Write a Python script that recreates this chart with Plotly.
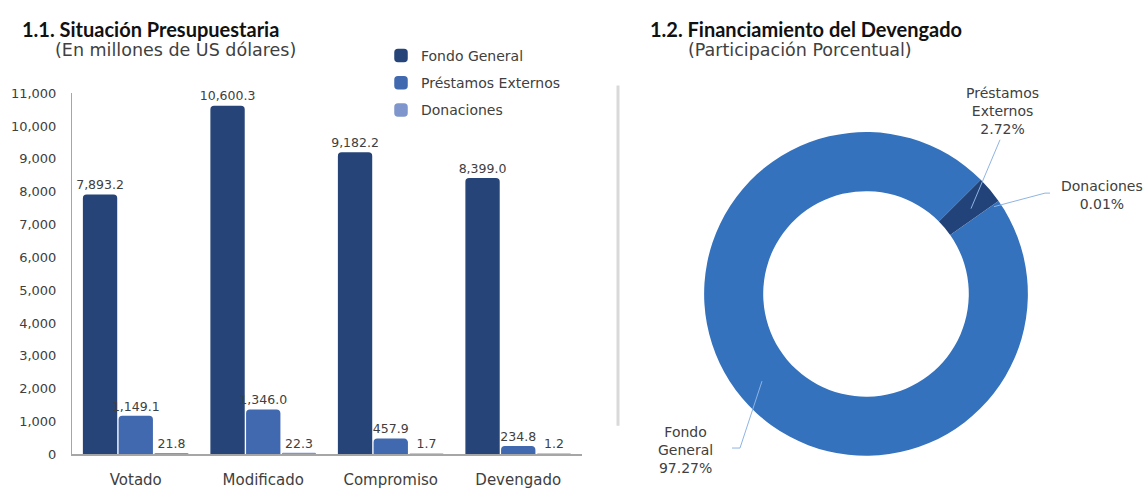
import plotly.graph_objects as go

W, H = 1144, 489

categories = ["Votado", "Modificado", "Compromiso", "Devengado"]
fondo_general = [7893.2, 10600.3, 9182.2, 8399.0]
prestamos_externos = [1149.1, 1346.0, 457.9, 234.8]
donaciones = [21.8, 22.3, 1.7, 1.2]
series_names = ["Fondo General", "Préstamos Externos", "Donaciones"]
bar_colors = ["#264478", "#4169b0", "#7f96cc"]
y_ticks = [0, 1000, 2000, 3000, 4000, 5000, 6000, 7000, 8000, 9000, 10000, 11000]

pie_labels = ["Fondo General", "Préstamos Externos", "Donaciones"]
pie_values = [fondo_general[3], prestamos_externos[3], donaciones[3]]
pie_colors = ["#3572bd", "#21437a", "#a9c2e6"]

FONT = "DejaVu Sans"
TFONT = "Lato"
TXT = "#404040"


def fx(px):
    return px / W


def fy(py):
    return 1 - py / H


fig = go.Figure()
for name, vals, col in zip(series_names, [fondo_general, prestamos_externos, donaciones], bar_colors):
    fig.add_trace(go.Bar(
        x=categories, y=vals, name=name, legendgroup=name,
        marker=dict(color=col, line=dict(color=col, width=1.5)),
        texttemplate="%{y:,.1f}", textposition="outside", constraintext="none",
        textfont=dict(family=FONT, size=12.5, color=TXT),
        cliponaxis=False, xaxis="x", yaxis="y",
    ))

fig.add_trace(go.Pie(
    labels=pie_labels, values=pie_values, hole=0.635, sort=False,
    direction="clockwise", rotation=55, textinfo="none",
    marker=dict(colors=pie_colors, line=dict(width=0)),
    showlegend=False,
    domain=dict(x=[fx(700), fx(1032)], y=[fy(463), fy(129)]),
))

total = sum(pie_values)
pct = [v / total * 100 for v in pie_values]

annotations = [
    dict(text="1.1. Situación Presupuestaria", x=fx(20), y=fy(8), xanchor="left", yanchor="top",
         font=dict(family=TFONT, size=20, color="#111111", weight="bold")),
    dict(text="(En millones de US dólares)", x=fx(53), y=fy(32), xanchor="left", yanchor="top",
         font=dict(family=FONT, size=17.5, color=TXT)),
    dict(text="1.2. Financiamiento del Devengado", x=fx(648), y=fy(8), xanchor="left", yanchor="top",
         font=dict(family=TFONT, size=20, color="#111111", weight="bold")),
    dict(text="(Participación Porcentual)", x=fx(686), y=fy(32), xanchor="left", yanchor="top",
         font=dict(family=FONT, size=17.5, color=TXT)),
    dict(text="Fondo<br>General<br>%.2f%%" % pct[0], x=fx(685), y=fy(457), xanchor="center", yanchor="middle",
         font=dict(family=FONT, size=14, color=TXT)),
    dict(text="Préstamos<br>Externos<br>%.2f%%" % pct[1], x=fx(1002), y=fy(107), xanchor="center", yanchor="middle",
         font=dict(family=FONT, size=14, color=TXT)),
    dict(text="Donaciones<br>%.2f%%" % pct[2], x=fx(1102), y=fy(194), xanchor="center", yanchor="middle",
         font=dict(family=FONT, size=14, color=TXT)),
]
for a in annotations:
    a.update(xref="paper", yref="paper", showarrow=False)


def path(points):
    return "M " + " L ".join("%f %f" % (fx(a), fy(b)) for a, b in points)


lc = "#8fb4e3"
shapes = [
    dict(type="line", xref="paper", yref="paper", x0=fx(618), x1=fx(618), y0=fy(81), y1=fy(432),
         line=dict(color="#d9d9d9", width=3)),
    dict(type="path", xref="paper", yref="paper", path=path([(732, 455), (740, 455), (762, 386)]),
         line=dict(color=lc, width=1)),
    dict(type="path", xref="paper", yref="paper", path=path([(1000, 137), (971, 208)]),
         line=dict(color=lc, width=1)),
    dict(type="path", xref="paper", yref="paper", path=path([(1050, 192), (1045, 192), (994, 206)]),
         line=dict(color=lc, width=1)),
]

fig.update_layout(
    autosize=True,
    margin=dict(l=0, r=0, t=0, b=0),
    paper_bgcolor="white", plot_bgcolor="white",
    barmode="group", bargap=0.16, bargroupgap=0.08, barcornerradius=3,
    font=dict(family=FONT, color=TXT),
    xaxis=dict(domain=[fx(72), fx(582)], showline=True, linecolor="#a6a6a6", linewidth=1.5,
               showgrid=False, ticks="", tickfont=dict(family=FONT, size=15, color=TXT),
               ticklabelstandoff=11),
    yaxis=dict(domain=[fy(461.5), fy(89)], range=[0, 11000], tickvals=y_ticks, tickformat=",",
               showline=True, linecolor="#a6a6a6", linewidth=1, showgrid=False, zeroline=False,
               ticks="", tickfont=dict(family=FONT, size=13, color=TXT), ticklabelstandoff=12),
    legend=dict(x=fx(381), y=fy(34), xanchor="left", yanchor="top", tracegroupgap=6,
                font=dict(family=FONT, size=14, color=TXT), bgcolor="rgba(0,0,0,0)"),
    annotations=annotations,
    shapes=shapes,
)

post = (
    "document.documentElement.style.overflow='hidden';"
    "document.body.style.margin='0';document.body.style.padding='0';"
    "document.body.style.overflow='hidden';"
    "var gd=document.getElementsByClassName('plotly-graph-div')[0];"
    "gd.style.position='fixed';gd.style.top='0px';gd.style.left='0px';"
    "gd.style.width='100vw';gd.style.height='100vh';"
)

fig.write_html(
    "out.html",
    default_width="100vw",
    default_height="100vh",
    config={"displayModeBar": False, "responsive": True},
    post_script=post,
)
